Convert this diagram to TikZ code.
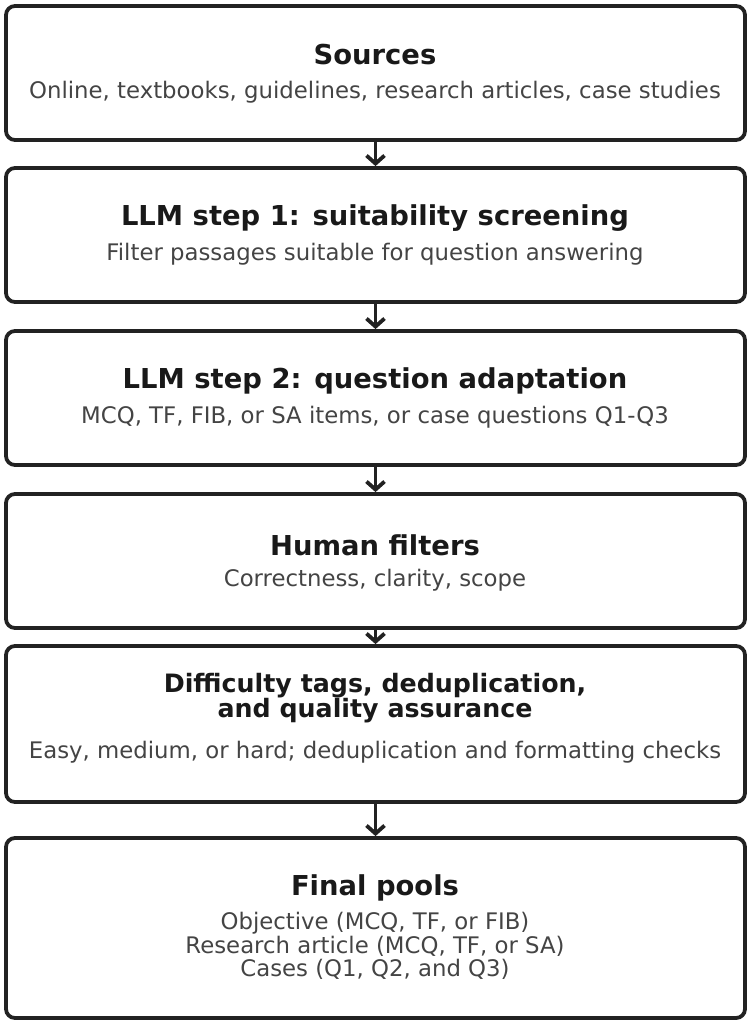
\documentclass[tikz,border=0pt]{standalone}
\usepackage{fontspec}
\setmainfont{DejaVu Sans}
\usetikzlibrary{arrows.meta}
\definecolor{subgray}{RGB}{68,68,68}
\definecolor{edge}{RGB}{34,34,34}
\begin{document}
\tikzset{every picture/.style={line width=0.75pt}}
\begin{tikzpicture}[x=1pt,y=1pt,yscale=-1,
  box/.style={draw=edge,line width=3.8pt,rounded corners=9pt,minimum width=739pt,inner sep=0pt},
  ttl/.style={font=\fontsize{27.4}{24}\selectfont\bfseries,text=black!90,align=center},
  sub/.style={font=\fontsize{22.8}{23.5}\selectfont,text=subgray,align=center},
  flow/.style={draw=edge,line width=3.8pt,-{Straight Barb[length=8pt,width=18pt,line width=3.8pt]}}]
	\useasboundingbox (0,0) rectangle (750,1024);
	
	%Boxes
	\node[box,minimum height=134pt] (src) at (375.5,73) {};
	\node[box,minimum height=134pt] (scr) at (375.5,235) {};
	\node[box,minimum height=134pt] (ada) at (375.5,398) {};
	\node[box,minimum height=134pt] (hum) at (375.5,561) {};
	\node[box,minimum height=156pt] (dif) at (375.5,724) {};
	\node[box,minimum height=180pt] (fin) at (375.5,928) {};
	
	%Arrows
	\draw[flow] (src.south) -- (scr.north);
	\draw[flow] (scr.south) -- (ada.north);
	\draw[flow] (ada.south) -- (hum.north);
	\draw[flow] (hum.south) -- (dif.north);
	\draw[flow] (dif.south) -- (fin.north);
	
	% Text Node
	\node[ttl] (srcT) at (375,55) {Sources};
	\node[sub] (srcS) at (375,92) {Online, textbooks, guidelines, research articles, case studies};
	% Text Node
	\node[ttl] (scrT) at (375,218) {LLM step 1: suitability screening};
	\node[sub] (scrS) at (375,254) {Filter passages suitable for question answering};
	% Text Node
	\node[ttl] (adaT) at (375,381) {LLM step 2: question adaptation};
	\node[sub] (adaS) at (375,417) {MCQ, TF, FIB, or SA items, or case questions Q1-Q3};
	% Text Node
	\node[ttl] (humT) at (375,545) {Human filters};
	\node[sub] (humS) at (375,580) {Correctness, clarity, scope};
	% Text Node
	\node[ttl,font=\fontsize{25.3}{24.5}\selectfont\bfseries] (difT) at (375,698) {Difficulty tags, deduplication,\\and quality assurance};
	\node[sub] (difS) at (375,752) {Easy, medium, or hard; deduplication and formatting checks};
	% Text Node
	\node[ttl] (finT) at (375,888) {Final pools};
	\node[sub] (finS) at (375,946) {Objective (MCQ, TF, or FIB)\\Research article (MCQ, TF, or SA)\\Cases (Q1, Q2, and Q3)};
\end{tikzpicture}
\end{document}
